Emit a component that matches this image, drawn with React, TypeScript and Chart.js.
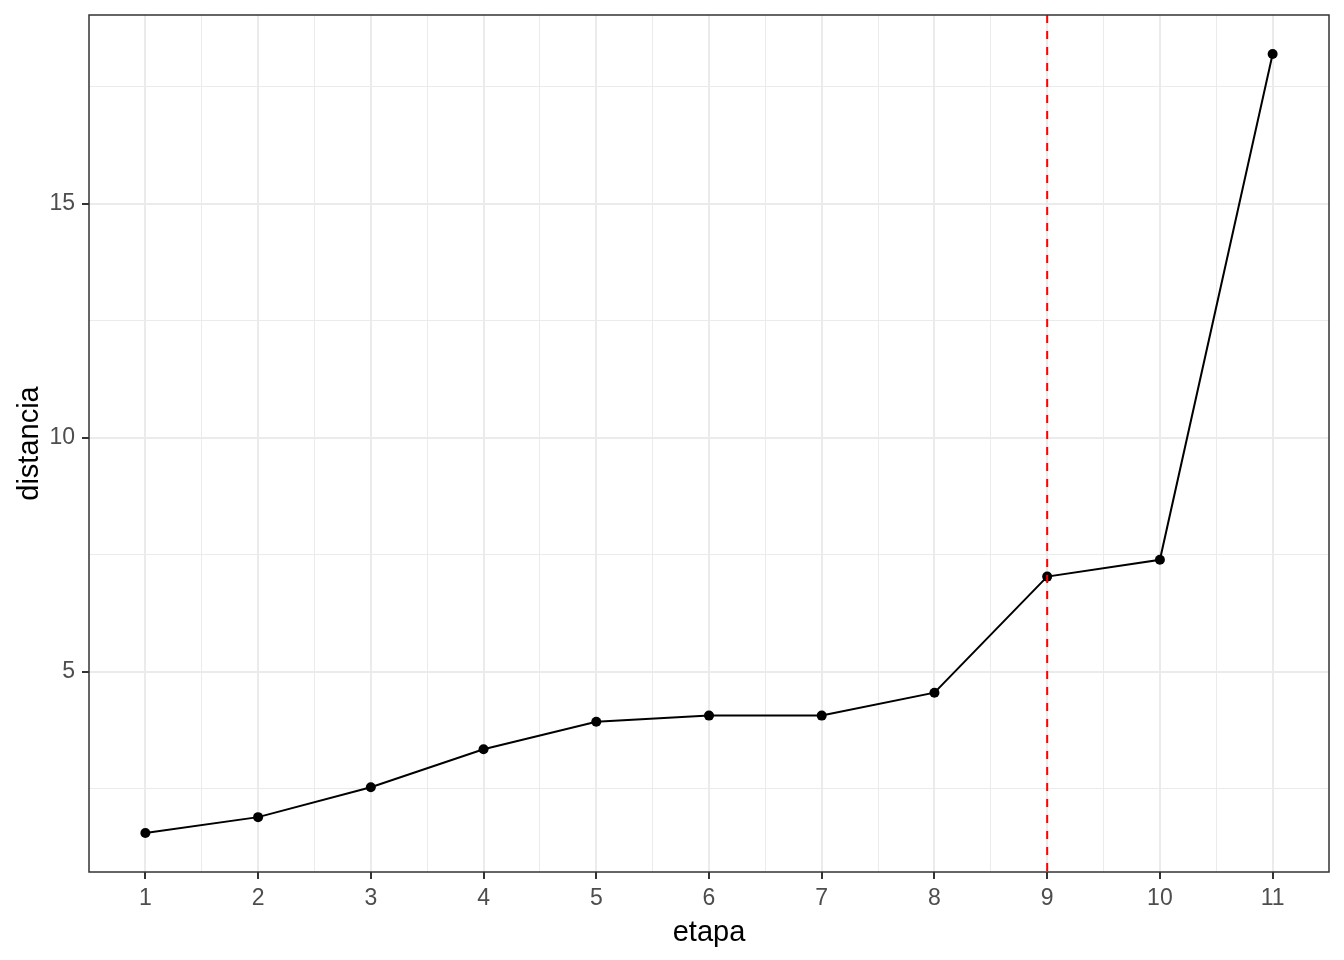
import { useEffect, useRef } from "react";
import { Chart, registerables } from "chart.js";

Chart.register(...registerables);

const etapa = [1, 2, 3, 4, 5, 6, 7, 8, 9, 10, 11];
const distancia = [1.55, 1.89, 2.53, 3.34, 3.93, 4.06, 4.06, 4.55, 7.03, 7.39, 18.2];
const corteEtapa = 9;
const xMajorTicks = [1, 2, 3, 4, 5, 6, 7, 8, 9, 10, 11];
const xMinorTicks = [1.5, 2.5, 3.5, 4.5, 5.5, 6.5, 7.5, 8.5, 9.5, 10.5];
const yMajorTicks = [5, 10, 15];
const yMinorTicks = [2.5, 7.5, 12.5, 17.5];
const xTitle = "etapa";
const yTitle = "distancia";

const FONT = "'Liberation Sans', Arial, Helvetica, sans-serif";

export default function App() {
  const ref = useRef<HTMLCanvasElement | null>(null);

  useEffect(() => {
    if (!ref.current) return;
    const dMin = Math.min(...distancia);
    const dMax = Math.max(...distancia);
    const yExp = (dMax - dMin) * 0.05;
    const yMin = dMin - yExp;
    const yMax = dMax + yExp;
    const xMin = Math.min(...etapa) - 0.5;
    const xMax = Math.max(...etapa) + 0.5;

    const borderPlugin = {
      id: "panelBorder",
      afterDraw(chart: any) {
        const { ctx, chartArea } = chart;
        ctx.save();
        ctx.strokeStyle = "#333333";
        ctx.lineWidth = 1.5;
        ctx.strokeRect(
          chartArea.left,
          chartArea.top,
          chartArea.right - chartArea.left,
          chartArea.bottom - chartArea.top
        );
        ctx.restore();
      },
    };

    const isMajor = (v: number) => Math.abs(v - Math.round(v)) < 1e-9;

    const chart = new Chart(ref.current, {
      type: "line",
      data: {
        datasets: [
          {
            data: [
              { x: corteEtapa, y: yMax },
              { x: corteEtapa, y: yMin },
            ],
            borderColor: "#FF0000",
            borderWidth: 2,
            borderDash: [8, 8],
            pointRadius: 0,
            fill: false,
          },
          {
            data: etapa.map((e, i) => ({ x: e, y: distancia[i] })),
            borderColor: "#000000",
            borderWidth: 2,
            pointRadius: 5,
            pointBackgroundColor: "#000000",
            pointBorderColor: "#000000",
            pointBorderWidth: 0,
            tension: 0,
            fill: false,
          },
        ],
      },
      options: {
        responsive: false,
        animation: false,
        events: [],
        layout: { padding: { left: 0, top: 15, right: 15, bottom: 0 } },
        plugins: {
          legend: { display: false },
          tooltip: { enabled: false },
          title: { display: false },
        },
        scales: {
          x: {
            type: "linear",
            min: xMin,
            max: xMax,
            afterBuildTicks: (scale: any) => {
              scale.ticks = [...xMajorTicks, ...xMinorTicks]
                .sort((a, b) => a - b)
                .map((v) => ({ value: v }));
            },
            afterFit: (scale: any) => {
              scale.height = 88;
              scale.paddingLeft = 0;
              scale.paddingRight = 0;
            },
            border: { display: false },
            grid: {
              color: "#EBEBEB",
              lineWidth: (ctx: any) => (isMajor(ctx.tick.value) ? 2 : 1),
              tickColor: (ctx: any) =>
                isMajor(ctx.tick.value) ? "#333333" : "rgba(0,0,0,0)",
              tickWidth: 2,
              tickLength: 7,
            },
            ticks: {
              autoSkip: false,
              maxRotation: 0,
              padding: 6,
              color: "#4D4D4D",
              font: { family: FONT, size: 23 },
              callback: (v: any) =>
                isMajor(Number(v)) && xMajorTicks.includes(Number(v)) ? String(v) : "",
            },
            title: {
              display: true,
              text: xTitle,
              color: "#000000",
              font: { family: FONT, size: 29 },
              padding: { top: 10, bottom: 10 },
            },
          },
          y: {
            type: "linear",
            min: yMin,
            max: yMax,
            afterBuildTicks: (scale: any) => {
              scale.ticks = [...yMajorTicks, ...yMinorTicks]
                .sort((a, b) => a - b)
                .map((v) => ({ value: v }));
            },
            afterFit: (scale: any) => {
              scale.width = 89;
              scale.paddingTop = 0;
              scale.paddingBottom = 0;
            },
            border: { display: false },
            grid: {
              color: "#EBEBEB",
              lineWidth: (ctx: any) =>
                yMajorTicks.includes(ctx.tick.value) ? 2 : 1,
              tickColor: (ctx: any) =>
                yMajorTicks.includes(ctx.tick.value) ? "#333333" : "rgba(0,0,0,0)",
              tickWidth: 2,
              tickLength: 7,
            },
            ticks: {
              autoSkip: false,
              padding: 7,
              color: "#4D4D4D",
              font: { family: FONT, size: 23 },
              callback: (v: any) =>
                yMajorTicks.includes(Number(v)) ? String(v) : "",
            },
            title: {
              display: true,
              text: yTitle,
              color: "#000000",
              font: { family: FONT, size: 29 },
              padding: { top: 13, bottom: 13 },
            },
          },
        },
      },
      plugins: [borderPlugin],
    } as any);

    return () => chart.destroy();
  }, []);

  return (
    <div
      style={{
        position: "absolute",
        left: 0,
        top: 0,
        width: 1344,
        height: 960,
        background: "#FFFFFF",
      }}
    >
      <canvas ref={ref} width={1344} height={960} style={{ display: "block" }} />
    </div>
  );
}
